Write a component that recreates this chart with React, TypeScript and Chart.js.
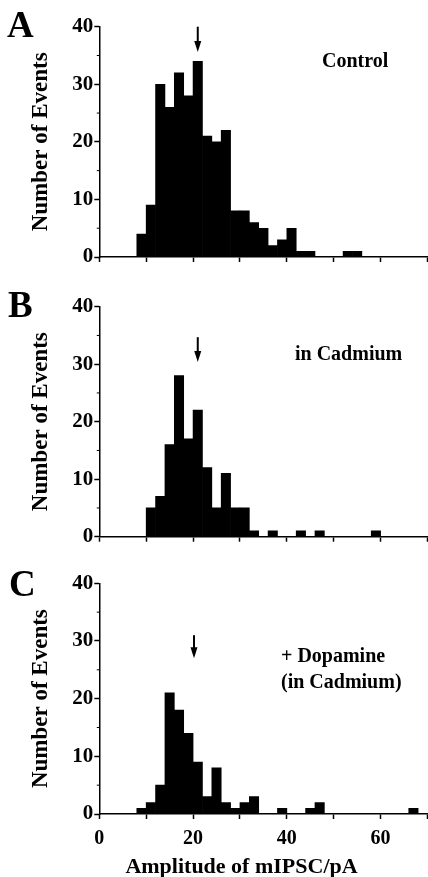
import React, { useEffect, useRef } from "react";
import { Chart, registerables } from "chart.js";

Chart.register(...registerables);

// ---- data ----
const binCenters = [1, 3, 5, 7, 9, 11, 13, 15, 17, 19, 21, 23, 25, 27, 29, 31, 33, 35, 37, 39, 41, 43, 45, 47, 49, 51, 53, 55, 57, 59, 61, 63, 65, 67, 69];
const controlCounts = [0, 0, 0, 0, 4, 9, 30, 26, 32, 28, 34, 21, 20, 22, 8, 8, 6, 5, 2, 3, 5, 1, 1, 0, 0, 0, 1, 1, 0, 0, 0, 0, 0, 0, 0];
const cadmiumCounts = [0, 0, 0, 0, 0, 5, 7, 16, 28, 17, 22, 12, 5, 11, 5, 5, 1, 0, 1, 0, 0, 1, 0, 1, 0, 0, 0, 0, 0, 1, 0, 0, 0, 0, 0];
const dopamineCounts = [0, 0, 0, 0, 1, 2, 5, 21, 18, 14, 9, 3, 8, 2, 1, 2, 3, 0, 0, 1, 0, 0, 1, 2, 0, 0, 0, 0, 0, 0, 0, 0, 0, 1, 0];

const xTickLabels = ["0", "", "20", "", "40", "", "60", ""];
const yTickLabels = ["0", "10", "20", "30", "40"];

const meanArrowX = [21, 21, 20.2];
const arrowTopY = [40, 34.7, 31];
const arrowTipY = [35.6, 30.4, 27];

const panelLetters = ["A", "B", "C"];
const conditionLabels = [["Control"], ["in Cadmium"], ["+ Dopamine", "(in Cadmium)"]];
const yTitle = "Number of Events";
const xTitle = "Amplitude of mIPSC/pA";

// ---- layout (pixels) ----
const FONT = '"Liberation Serif", "Times New Roman", serif';
const layouts = [
  { top: 0, height: 280, padTop: 26.7, xAxisH: 23, letterX: 7, letterY: 37, labelX: [322], labelY: [67], showX: false },
  { top: 280, height: 280, padTop: 26.7, xAxisH: 23.3, letterX: 8, letterY: 37, labelX: [295], labelY: [80], showX: false },
  { top: 560, height: 317, padTop: 23.3, xAxisH: 63, letterX: 9, letterY: 36, labelX: [281, 281], labelY: [102, 128], showX: true },
];

function HistogramPanel({ idx, counts }: { idx: number; counts: number[] }) {
  const ref = useRef<HTMLCanvasElement | null>(null);
  useEffect(() => {
    const L = layouts[idx];
    const annot = {
      id: "annot" + idx,
      afterDraw(chart: any) {
        const { ctx } = chart;
        const xs = chart.scales.x;
        const ys = chart.scales.y;
        ctx.save();
        ctx.fillStyle = "#000";
        ctx.strokeStyle = "#000";
        // minor y ticks
        ctx.lineWidth = 1;
        [5, 15, 25, 35].forEach((v) => {
          const py = ys.getPixelForValue(v);
          ctx.beginPath();
          ctx.moveTo(xs.left - 2.5, py);
          ctx.lineTo(xs.left, py);
          ctx.stroke();
        });
        // mean arrow
        const ax = xs.getPixelForValue(meanArrowX[idx]);
        const yTop = ys.getPixelForValue(arrowTopY[idx]);
        const yTip = ys.getPixelForValue(arrowTipY[idx]);
        ctx.lineWidth = 2;
        ctx.beginPath();
        ctx.moveTo(ax, yTop);
        ctx.lineTo(ax, yTip - 8);
        ctx.stroke();
        ctx.beginPath();
        ctx.moveTo(ax - 3.5, yTip - 11);
        ctx.lineTo(ax + 3.5, yTip - 11);
        ctx.lineTo(ax, yTip);
        ctx.closePath();
        ctx.fill();
        // panel letter
        ctx.textAlign = "left";
        ctx.textBaseline = "alphabetic";
        ctx.font = "bold 37px " + FONT;
        ctx.fillText(panelLetters[idx], L.letterX, L.letterY);
        // condition labels
        ctx.font = "bold 20px " + FONT;
        conditionLabels[idx].forEach((t, i) => ctx.fillText(t, L.labelX[i], L.labelY[i]));
        // x title
        if (L.showX) {
          ctx.textAlign = "center";
          ctx.font = "bold 22px " + FONT;
          ctx.fillText(xTitle, 241.5, 873 - L.top);
        }
        ctx.restore();
      },
    };
    const chart = new Chart(ref.current as HTMLCanvasElement, {
      type: "bar",
      data: {
        datasets: [
          {
            data: binCenters.map((c, i) => ({ x: c, y: counts[i] })),
            backgroundColor: "#000",
            borderWidth: 0,
            barPercentage: 1,
            categoryPercentage: 1,
          },
        ],
      },
      options: {
        animation: false,
        responsive: false,
        devicePixelRatio: 1,
        layout: { padding: { left: 0, right: 0.5, top: L.padTop, bottom: 0 } },
        plugins: { legend: { display: false }, tooltip: { enabled: false } },
        scales: {
          x: {
            type: "linear",
            min: 0,
            max: 70,
            offset: false,
            afterFit: (s: any) => {
              s.height = L.xAxisH;
            },
            grid: { display: true, offset: false, drawOnChartArea: false, drawTicks: true, tickLength: 5, tickColor: "#000", tickWidth: 1.5 },
            border: { display: true, color: "#000", width: 1.5 },
            ticks: {
              stepSize: 10,
              autoSkip: false,
              maxRotation: 0,
              padding: 0,
              color: "#000",
              font: { family: FONT, size: 20, weight: "bold", lineHeight: 1.95 },
              callback: (_v: any, i: number) => (L.showX ? xTickLabels[i] : ""),
            },
          },
          y: {
            min: 0,
            max: 40,
            afterFit: (s: any) => {
              s.width = 99.3;
            },
            grid: { display: true, drawOnChartArea: false, drawTicks: true, tickLength: 5, tickColor: "#000", tickWidth: 1.5 },
            border: { display: true, color: "#000", width: 1.5 },
            ticks: {
              stepSize: 10,
              padding: 1,
              color: "#000",
              font: { family: FONT, size: 21, weight: "bold" },
              callback: (_v: any, i: number) => yTickLabels[i],
            },
            title: {
              display: true,
              text: yTitle,
              color: "#000",
              font: { family: FONT, size: 23, weight: "bold" },
              padding: { top: 27, bottom: 0 },
            },
          },
        },
      },
      plugins: [annot],
    } as any);
    return () => chart.destroy();
  }, [idx, counts]);
  const L = layouts[idx];
  return (
    <canvas
      ref={ref}
      width={428}
      height={L.height}
      style={{ position: "absolute", left: 0, top: L.top, width: 428, height: L.height }}
    />
  );
}

export default function App() {
  return (
    <div style={{ position: "fixed", left: 0, top: 0, width: 428, height: 877, overflow: "hidden", background: "#fff" }}>
      <HistogramPanel idx={0} counts={controlCounts} />
      <HistogramPanel idx={1} counts={cadmiumCounts} />
      <HistogramPanel idx={2} counts={dopamineCounts} />
    </div>
  );
}
